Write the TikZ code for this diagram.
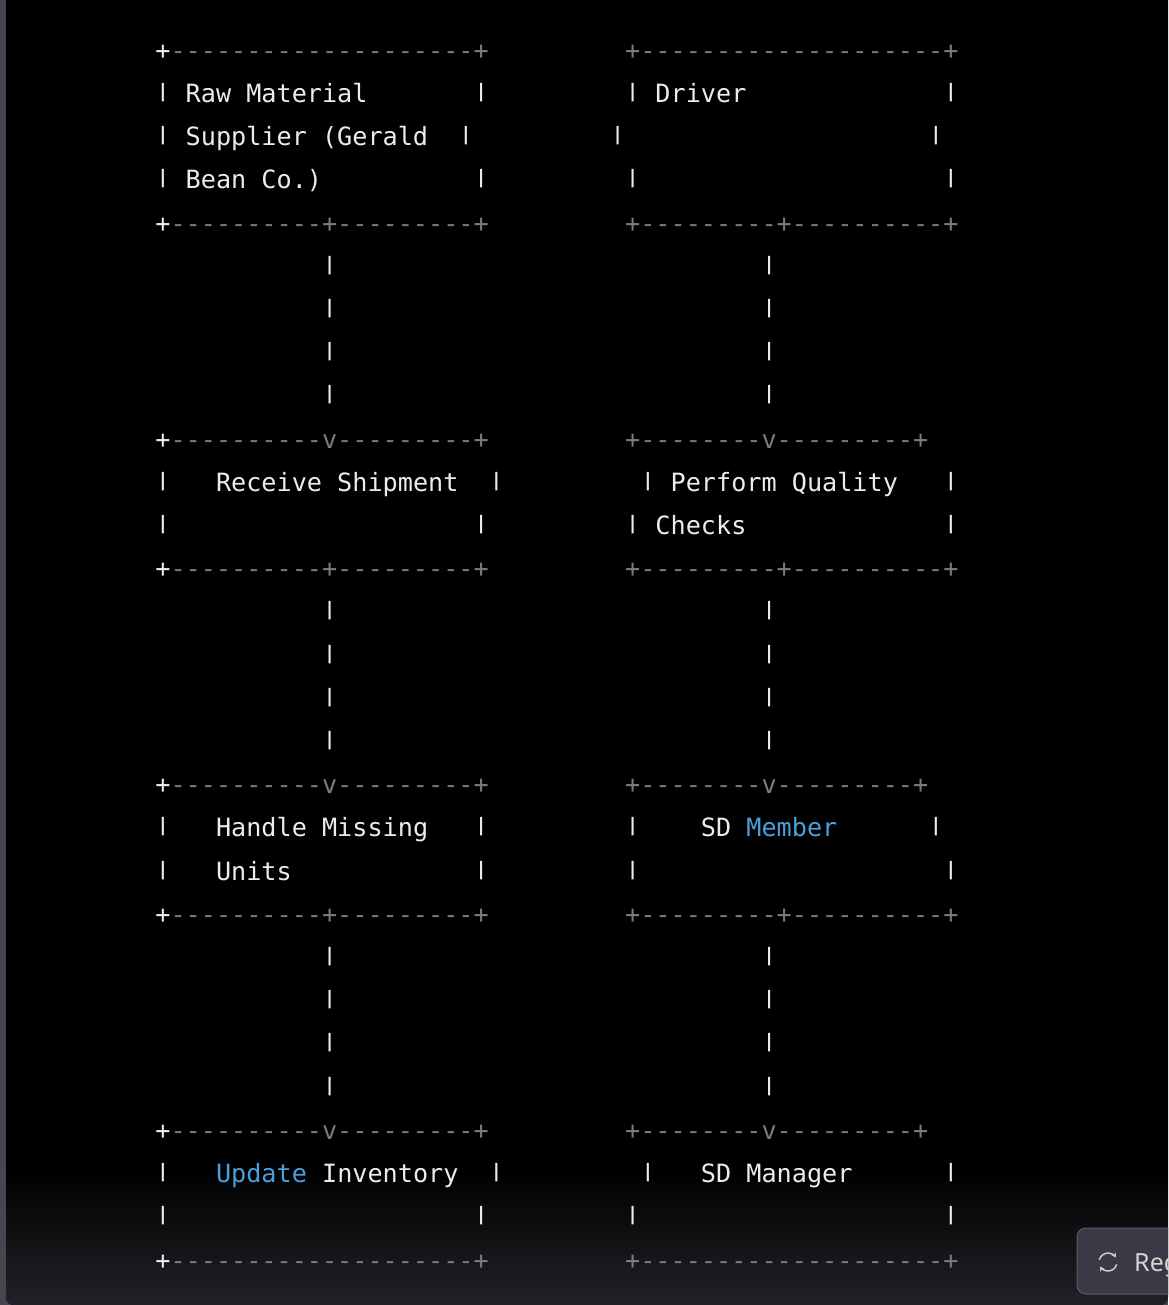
\documentclass[tikz,border=0pt]{standalone}
\usepackage{fontspec}
\setmonofont{DejaVu Sans Mono}
\newfontfamily\uifont{Noto Sans}
\usetikzlibrary{arrows.meta}
\definecolor{fg}{HTML}{ECECEC}
\definecolor{dim}{HTML}{7B7B7B}
\definecolor{kw}{HTML}{4A9FDC}
\definecolor{strip}{HTML}{45464F}
\definecolor{panelbot}{HTML}{222328}
\definecolor{btn}{HTML}{393A45}
\definecolor{btnedge}{HTML}{5C5D69}
\tikzset{
  ascii/.style={anchor=base west, inner sep=0pt, outer sep=0pt,
    font=\ttfamily\fontsize{25.17}{30}\selectfont, text=fg},
  rule/.style={text=dim},
  key/.style={text=kw},
}
% \txt[style]{row}{col}{text}
\newcommand\txt[4][]{\node[ascii,#1] (t#2x#3) at ({155.4+#3*15.154},{59.2+(#2-1)*43.21}) {#4};}
\newcommand\bordL[2]{\txt{#1}{0}{+}\txt[rule]{#1}{1}{#2}}
\newcommand\vb{\raisebox{5.1pt}{\scalebox{1}[0.735]{|}}}
\newcommand\pp[2]{\txt{#1}{#2}{\vb}}
\begin{document}
\begin{tikzpicture}[x=1pt,y=-1pt]
\useasboundingbox (0,0) rectangle (1168,1305);
% background
\fill[strip] (0,0) rectangle (1168,1305);
\fill[black] (1168,0) -- (6,0) [rounded corners=8pt] -- (6,1305) -- (1168,1305) [sharp corners] -- cycle;
\begin{scope}
  \clip (1168,0) -- (6,0) [rounded corners=8pt] -- (6,1305) -- (1168,1305) [sharp corners] -- cycle;
  \shade[top color=black, bottom color=panelbot] (6,1170) rectangle (1168,1306);
\end{scope}

% row 1
\bordL{1}{--------------------+}
\txt[rule]{1}{31}{+--------------------+}
% row 2
\pp{2}{0}\txt{2}{2}{Raw Material}\pp{2}{21}
\pp{2}{31}\txt{2}{33}{Driver}\pp{2}{52}
% row 3
\pp{3}{0}\txt{3}{2}{Supplier (Gerald}\pp{3}{20}
\pp{3}{30}\pp{3}{51}
% row 4
\pp{4}{0}\txt{4}{2}{Bean Co.)}\pp{4}{21}
\pp{4}{31}\pp{4}{52}
% row 5
\bordL{5}{----------+---------+}
\txt[rule]{5}{31}{+---------+----------+}
% connector rows
\foreach \r in {6,7,8,9,14,15,16,17,22,23,24,25}{\pp{\r}{11}\pp{\r}{40}}
% row 10
\bordL{10}{----------v---------+}
\txt[rule]{10}{31}{+--------v---------+}
% row 11
\pp{11}{0}\txt{11}{4}{Receive Shipment}\pp{11}{22}
\pp{11}{32}\txt{11}{34}{Perform Quality}\pp{11}{52}
% row 12
\pp{12}{0}\pp{12}{21}
\pp{12}{31}\txt{12}{33}{Checks}\pp{12}{52}
% row 13
\bordL{13}{----------+---------+}
\txt[rule]{13}{31}{+---------+----------+}
% row 18
\bordL{18}{----------v---------+}
\txt[rule]{18}{31}{+--------v---------+}
% row 19
\pp{19}{0}\txt{19}{4}{Handle Missing}\pp{19}{21}
\pp{19}{31}\txt{19}{36}{SD}\txt[key]{19}{39}{Member}\pp{19}{51}
% row 20
\pp{20}{0}\txt{20}{4}{Units}\pp{20}{21}
\pp{20}{31}\pp{20}{52}
% row 21
\bordL{21}{----------+---------+}
\txt[rule]{21}{31}{+---------+----------+}
% row 26
\bordL{26}{----------v---------+}
\txt[rule]{26}{31}{+--------v---------+}
% row 27
\pp{27}{0}\txt[key]{27}{4}{Update}\txt{27}{11}{Inventory}\pp{27}{22}
\pp{27}{32}\txt{27}{36}{SD Manager}\pp{27}{52}
% row 28
\pp{28}{0}\pp{28}{21}
\pp{28}{31}\pp{28}{52}
% row 29
\bordL{29}{--------------------+}
\txt[rule]{29}{31}{+--------------------+}

% button (cut by the right edge, as in the screenshot)
\begin{scope}
  \clip (0,0) rectangle (1168,1305);
  \draw[btnedge, fill=btn, rounded corners=9pt, line width=1pt] (1077,1228) rectangle (1230,1294);
  \coordinate (ic) at (1108,1262);
  \draw[fg!85!black, line width=1.5pt, -{Stealth[length=4.5pt,width=5.5pt]}] ([shift={(195:9)}]ic) arc[start angle=195, end angle=330, radius=9];
  \draw[fg!85!black, line width=1.5pt, -{Stealth[length=4.5pt,width=5.5pt]}] ([shift={(15:9)}]ic) arc[start angle=15, end angle=150, radius=9];
  \node[anchor=base west, inner sep=0pt, text=fg!90!black, font=\uifont\fontsize{25}{30}\selectfont] (regen) at (1134,1271) {Reg};
\end{scope}
\end{tikzpicture}
\end{document}
